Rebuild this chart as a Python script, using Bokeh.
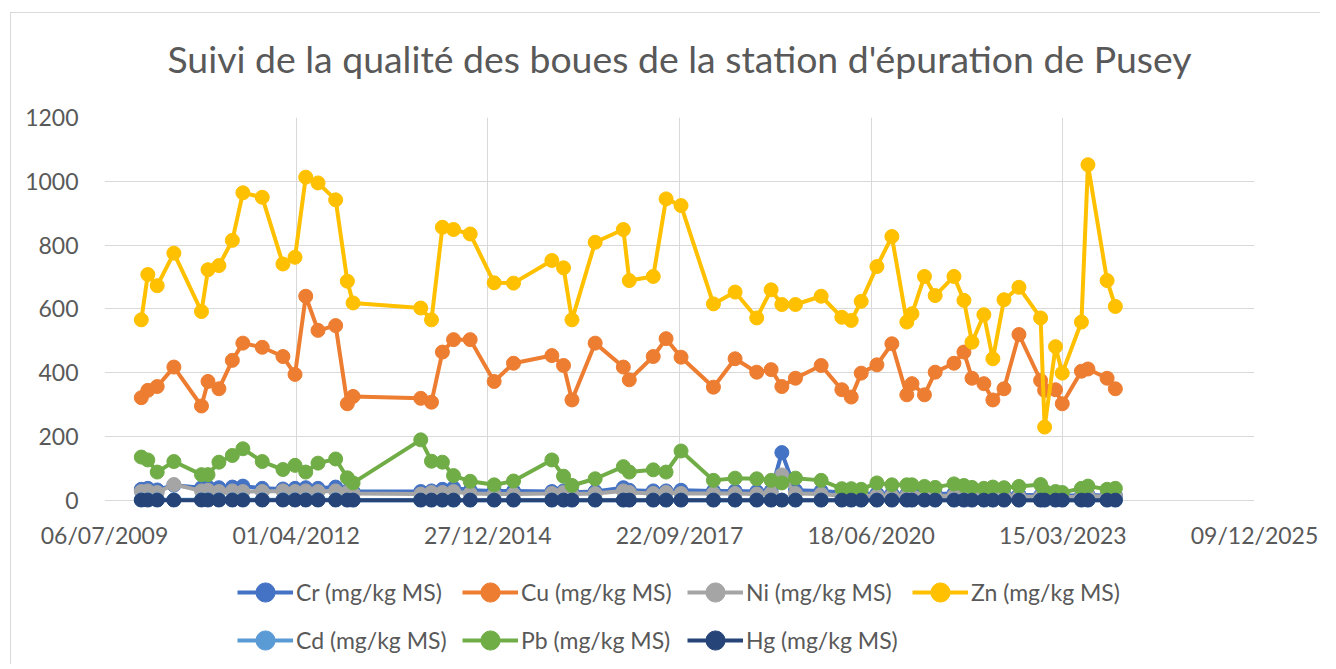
import pandas as pd
from bokeh.plotting import figure
from bokeh.layouts import column
from bokeh.models import (Range1d, FixedTicker, DatetimeTickFormatter, Legend, LegendItem,
                          ColumnDataSource, BoxAnnotation, Label)
from bokeh.embed import file_html
from bokeh.resources import INLINE

# ---------------- data ----------------
dates = ["2010-01-14", "2010-02-17", "2010-04-07", "2010-07-03", "2010-11-24", "2010-12-28",
         "2011-02-23", "2011-05-04", "2011-06-28", "2011-10-07", "2012-01-23", "2012-03-26",
         "2012-05-21", "2012-07-24", "2012-10-24", "2012-12-24", "2013-01-23",
         "2014-01-11", "2014-03-08", "2014-05-04", "2014-07-01", "2014-09-26", "2015-01-29",
         "2015-05-10", "2015-11-26", "2016-01-26", "2016-03-10", "2016-07-09", "2016-12-03",
         "2017-01-03", "2017-05-08", "2017-07-14", "2017-09-30",
         "2018-03-18", "2018-07-09", "2018-10-30", "2019-01-13", "2019-03-10", "2019-05-20",
         "2019-10-01", "2020-01-17", "2020-03-06", "2020-04-27", "2020-07-18", "2020-10-04",
         "2020-12-21", "2021-01-17", "2021-03-23", "2021-05-18", "2021-08-24", "2021-10-15",
         "2021-11-26", "2022-01-27", "2022-03-15", "2022-05-12", "2022-07-29", "2022-11-19",
         "2022-12-10", "2023-02-05", "2023-03-12", "2023-06-20", "2023-07-24", "2023-11-01",
         "2023-12-14"]

zn = [566, 708, 673, 775, 592, 723, 736, 815, 964, 950, 741, 762, 1013, 995, 942, 687, 619,
      603, 566, 856, 849, 835, 682, 681, 752, 729, 566, 809, 849, 689, 702, 945, 924,
      616, 653, 572, 660, 614, 614, 640, 574, 564, 624, 733, 827, 559, 585, 702, 642, 702, 627,
      496, 582, 444, 629, 668, 572, 230, 482, 399, 559, 1052, 689, 608]

cu = [322, 345, 357, 418, 296, 373, 350, 439, 493, 480, 451, 395, 640, 533, 548, 303, 326,
      320, 308, 465, 504, 504, 373, 430, 454, 423, 315, 493, 418, 378, 451, 507, 449,
      355, 444, 402, 410, 357, 383, 423, 347, 324, 399, 425, 491, 331, 366, 331, 402, 430, 465,
      383, 366, 315, 350, 520, 376, 345, 347, 303, 405, 412, 383, 350]

pb = [136, 127, 89, 122, 81, 81, 120, 141, 162, 122, 97, 110, 89, 117, 130, 71, 55,
      190, 123, 120, 78, 60, 49, 61, 127, 76, 47, 68, 106, 89, 96, 89, 155,
      63, 70, 68, 63, 55, 70, 63, 37, 37, 35, 55, 49, 49, 49, 44, 41, 52, 47,
      41, 38, 42, 40, 44, 50, 30, 28, 25, 38, 45, 35, 38]

cr = [35, 38, 33, 48, 40, 42, 40, 42, 45, 38, 36, 38, 40, 38, 42, 30, 28,
      28, 30, 35, 40, 32, 30, 30, 28, 30, 26, 28, 40, 32, 30, 30, 32,
      30, 30, 28, 30, 150, 32, 30, 25, 22, 20, 22, 22, 20, 22, 22, 20, 22, 20,
      22, 20, 18, 20, 18, 16, 15, 16, 15, 16, 18, 15, 16]

ni = [28, 30, 25, 50, 30, 32, 28, 30, 28, 28, 30, 28, 30, 28, 30, 25, 22,
      20, 25, 25, 28, 22, 20, 20, 22, 25, 20, 22, 30, 25, 22, 25, 22,
      22, 22, 20, 22, 80, 22, 20, 15, 15, 14, 15, 15, 14, 15, 15, 14, 15, 14,
      15, 14, 12, 14, 12, 12, 10, 12, 10, 12, 14, 12, 12]

cd = [2, 2, 2, 2, 2, 2, 2, 2, 2, 2, 2, 2, 2, 2, 2, 1, 1,
      1, 1, 1, 1, 1, 1, 1, 1, 1, 1, 1, 1, 1, 1, 1, 1,
      1, 1, 1, 1, 1, 1, 1, 1, 1, 1, 1, 1, 1, 1, 1, 1, 1, 1,
      1, 1, 1, 1, 1, 1, 1, 1, 1, 1, 1, 1, 1]

hg = [1, 1, 1, 1, 1, 1, 1, 1, 1, 1, 1, 1, 1, 1, 1, 1, 1,
      1, 1, 1, 1, 1, 1, 1, 1, 1, 1, 1, 1, 1, 1, 1, 1,
      1, 1, 1, 1, 1, 1, 1, 1, 1, 1, 1, 1, 1, 1, 1, 1, 1, 1,
      1, 1, 1, 1, 1, 1, 1, 1, 1, 1, 1, 1, 1]

series_names = ["Cr (mg/kg MS)", "Cu (mg/kg MS)", "Ni (mg/kg MS)", "Zn (mg/kg MS)",
                "Cd (mg/kg MS)", "Pb (mg/kg MS)", "Hg (mg/kg MS)"]
series_values = [cr, cu, ni, zn, cd, pb, hg]
series_colors = ["#4472C4", "#ED7D31", "#A5A5A5", "#FFC000", "#5B9BD5", "#70AD47", "#264478"]

x_tick_labels = ["06/07/2009", "01/04/2012", "27/12/2014", "22/09/2017", "18/06/2020",
                 "15/03/2023", "09/12/2025"]
y_ticks = [0, 200, 400, 600, 800, 1000, 1200]

title_text = "Suivi de la qualité des boues de la station d'épuration de Pusey"

# ---------------- style ----------------
FONT = "Lato"
TXT = "#595959"
GRID = "#D9D9D9"
FRAME_W = 1150
BORDER_L = 93
BORDER_R = 66

x_dates = pd.to_datetime(dates)
tick_dt = pd.to_datetime(x_tick_labels, format="%d/%m/%Y")
tick_ms = [t.value / 1e6 for t in tick_dt]
sources = [ColumnDataSource(dict(x=x_dates, y=vals)) for vals in series_values]

# ---------------- title strip ----------------
tf = figure(frame_width=FRAME_W, frame_height=80, output_backend="svg", toolbar_location=None,
            x_range=Range1d(0, 1), y_range=Range1d(0, 1),
            min_border_left=BORDER_L, min_border_right=BORDER_R,
            min_border_top=0, min_border_bottom=0, outline_line_color=None)
tf.axis.visible = False
tf.grid.visible = False
tf.add_layout(Label(x=FRAME_W / 2, y=35, x_units="screen", y_units="screen",
                    text=title_text, text_align="center", text_baseline="middle",
                    text_font=FONT, text_font_size="37.4px", text_color=TXT))

# ---------------- main chart ----------------
# a few pixels of room below 0 so the markers at 0 are not cut in half
Y_PAD = 22

p = figure(x_axis_type="datetime", output_backend="svg", toolbar_location=None,
           frame_width=FRAME_W, frame_height=390,
           min_border_left=BORDER_L, min_border_right=BORDER_R,
           min_border_top=24, min_border_bottom=61,
           x_range=Range1d(tick_dt[0], tick_dt[-1]),
           y_range=Range1d(-Y_PAD, y_ticks[-1]))

p.outline_line_color = None
p.background_fill_color = "white"
p.border_fill_color = "white"

p.xaxis.ticker = FixedTicker(ticks=tick_ms)
p.xaxis.formatter = DatetimeTickFormatter(
    milliseconds="%d/%m/%Y", seconds="%d/%m/%Y", minsec="%d/%m/%Y", minutes="%d/%m/%Y",
    hourmin="%d/%m/%Y", hours="%d/%m/%Y", days="%d/%m/%Y", months="%d/%m/%Y",
    years="%d/%m/%Y")
p.yaxis.ticker = FixedTicker(ticks=y_ticks)

for ax in (p.xaxis[0], p.yaxis[0]):
    ax.axis_line_color = None
    ax.major_tick_line_color = None
    ax.minor_tick_line_color = None
    ax.major_label_text_font = FONT
    ax.major_label_text_font_size = "23px"
    ax.major_label_text_color = TXT
p.yaxis.major_label_standoff = 20
p.xaxis.major_label_standoff = 7

p.xgrid.grid_line_color = GRID
p.ygrid.grid_line_color = GRID
p.xgrid.ticker = FixedTicker(ticks=tick_ms)
p.ygrid.ticker = FixedTicker(ticks=y_ticks)

# hide the grid below the value axis (under the data)
p.add_layout(BoxAnnotation(top=-2, level="underlay", fill_color="white", fill_alpha=1,
                           line_color=None))

for src, col in zip(sources, series_colors):
    p.line("x", "y", source=src, line_color=col, line_width=4)
    p.scatter("x", "y", source=src, size=14, fill_color=col, line_color=col)

# ---------------- legend strip ----------------
lg = figure(frame_width=FRAME_W, frame_height=96, output_backend="svg", toolbar_location=None,
            x_range=Range1d(0, 1), y_range=Range1d(0, 1),
            min_border_left=BORDER_L, min_border_right=BORDER_R,
            min_border_top=0, min_border_bottom=0, outline_line_color=None)
lg.axis.visible = False
lg.grid.visible = False

items = []
for name, src, col in zip(series_names, sources, series_colors):
    # same data as the chart; it lies outside this strip's range, only the key is seen
    r1 = lg.line("x", "y", source=src, line_color=col, line_width=4)
    r2 = lg.scatter("x", "y", source=src, size=14, fill_color=col, line_color=col)
    items.append(LegendItem(label=name, renderers=[r1, r2]))

legend = Legend(items=items, orientation="horizontal", ncols=4, location=(133, 0),
                label_text_font=FONT, label_text_font_size="23px", label_text_color=TXT,
                glyph_width=56, glyph_height=48, label_height=48, label_standoff=3,
                label_width=166, spacing=0, padding=0, margin=0,
                border_line_color=None, background_fill_alpha=0)
lg.add_layout(legend, "center")

layout = column(tf, p, lg, spacing=0,
                styles={"border-left": "1px solid #D9D9D9", "border-top": "1px solid #D9D9D9",
                        "margin-left": "10px", "margin-top": "12px"})

open("out.html", "w").write(file_html(layout, INLINE))
